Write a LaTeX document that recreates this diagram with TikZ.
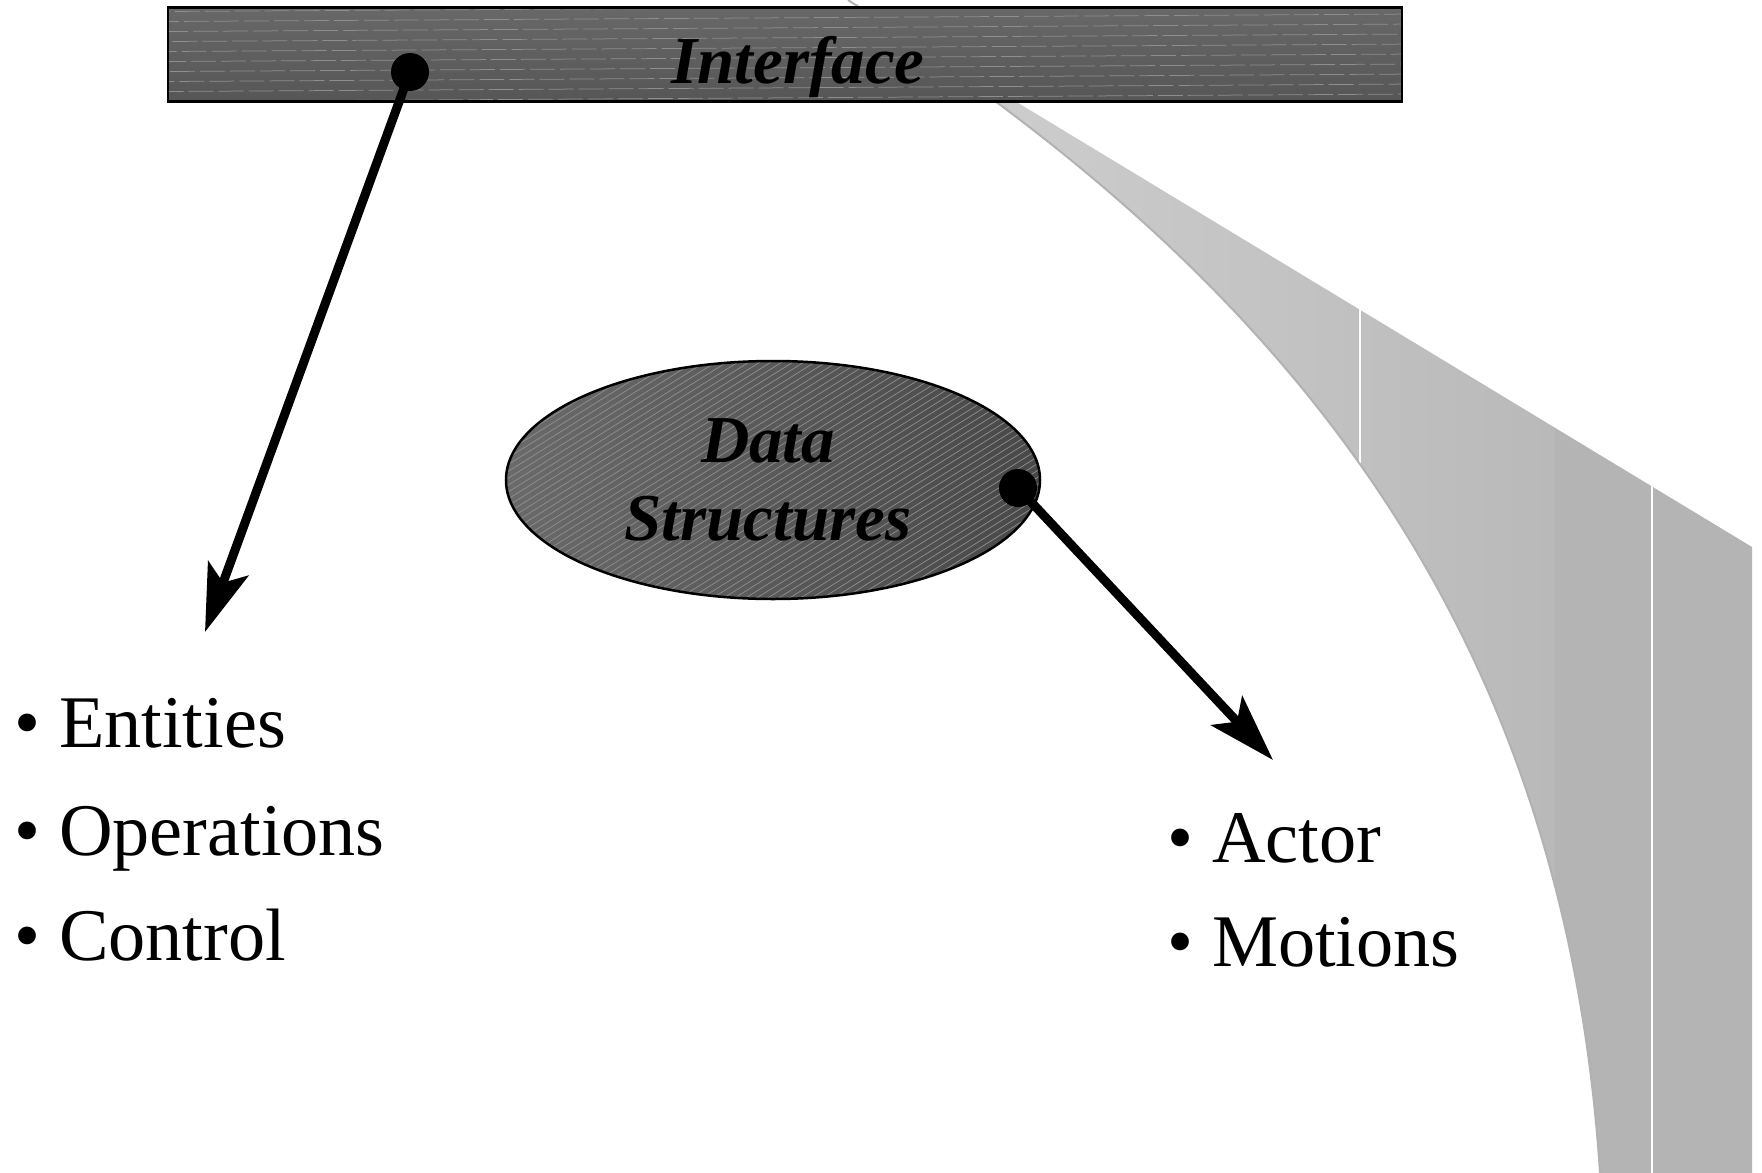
\documentclass[tikz,border=0pt]{standalone}
\usepackage{fontspec}
\setmainfont{Liberation Serif}
\usetikzlibrary{shapes.geometric,arrows.meta}

\definecolor{fanlight}{HTML}{D2D2D2}
\definecolor{fanmid}{HTML}{B9B9B9}
\definecolor{fandark}{HTML}{B4B4B4}
\definecolor{fanedge}{HTML}{B2B2B2}
\definecolor{bartop}{HTML}{686868}
\definecolor{barbot}{HTML}{565656}
\definecolor{ellleft}{HTML}{6A6A6A}
\definecolor{ellright}{HTML}{484848}
\definecolor{hatch}{HTML}{8E8E8E}

\tikzset{
  barbox/.style={rectangle, draw=black, line width=1pt, inner sep=0pt,
    minimum width=493.6pt, minimum height=37.6pt,
    path picture={
      \shade[top color=bartop, bottom color=barbot]
        (path picture bounding box.south west) rectangle (path picture bounding box.north east);
      \foreach \k in {-2,...,10}
        \draw[hatch, line width=0.3pt, dash pattern=on 10pt off 2pt, dash phase=\k*3.7pt]
          ([yshift=\k*4pt]path picture bounding box.south west) -- ++(500pt,3pt);
    }},
  ellbox/.style={ellipse, draw=black, line width=1pt, inner sep=0pt,
    minimum width=213.6pt, minimum height=95.2pt,
    path picture={
      \shade[left color=ellleft, right color=ellright]
        (path picture bounding box.south west) rectangle (path picture bounding box.north east);
      \foreach \k in {0,...,84}
        \draw[hatch, line width=0.3pt]
          ([xshift=\k*4.4pt-160pt]path picture bounding box.south west) -- ++(152pt,95pt);
    }},
  anchordot/.style={circle, fill=black, inner sep=0pt, minimum size=15.2pt},
  conn/.style={line width=3.6pt, -{Stealth[length=27pt, width=17pt, inset=6pt]}},
  item/.style={anchor=base west, inner sep=0pt, font=\fontsize{29.7pt}{35pt}\selectfont},
  caption/.style={anchor=base, inner sep=0pt,
    font=\fontsize{26.8pt}{31.2pt}\selectfont\bfseries\itshape},
}

\begin{document}
\begin{tikzpicture}[x=0.4pt, y=-0.4pt]
\useasboundingbox (0,0) rectangle (1762,1173);

% curved grey fan on the right
\begin{scope}
  \clip (848,0) .. controls (1248,256) and (1562,590) .. (1600,1173)
        -- (1752,1173) -- (1752,547) -- cycle;
  \shade[left color=fanlight, right color=fanmid] (848,0) rectangle (1555,1173);
  \fill[fandark] (1555,0) rectangle (1760,1173);
  \draw[white, line width=0.6pt] (1360,0) -- (1360,1173) (1652,0) -- (1652,1173);
\end{scope}
\draw[fanedge, line width=0.8pt] (848,0) .. controls (1248,256) and (1562,590) .. (1600,1173);

% interface bar
\node[barbox] (iface) at (785,54.5) {};
\node[caption] (ifacetext) at (798,84) {Interface};

% data structures ellipse
\node[ellbox] (ds) at (773,480) {};
\node[caption] (dsline1) at (768,462) {Data};
\node[caption] (dsline2) at (768,540) {Structures};

% connectors
\node[anchordot] (d1) at (410,72) {};
\node[anchordot] (d2) at (1018,488) {};
\coordinate (t1) at (205,632);
\coordinate (t2) at (1273,760);
\draw[conn] (d1.center) -- (t1);
\draw[conn] (d2.center) -- (t2);

% bullet lists
\node[item] (ent) at (14,747) {• Entities};
\node[item] (ops) at (14,855) {• Operations};
\node[item] (ctl) at (14,960) {• Control};
\node[item] (act) at (1167,862) {• Actor};
\node[item] (mot) at (1167,966) {• Motions};
\end{tikzpicture}
\end{document}
